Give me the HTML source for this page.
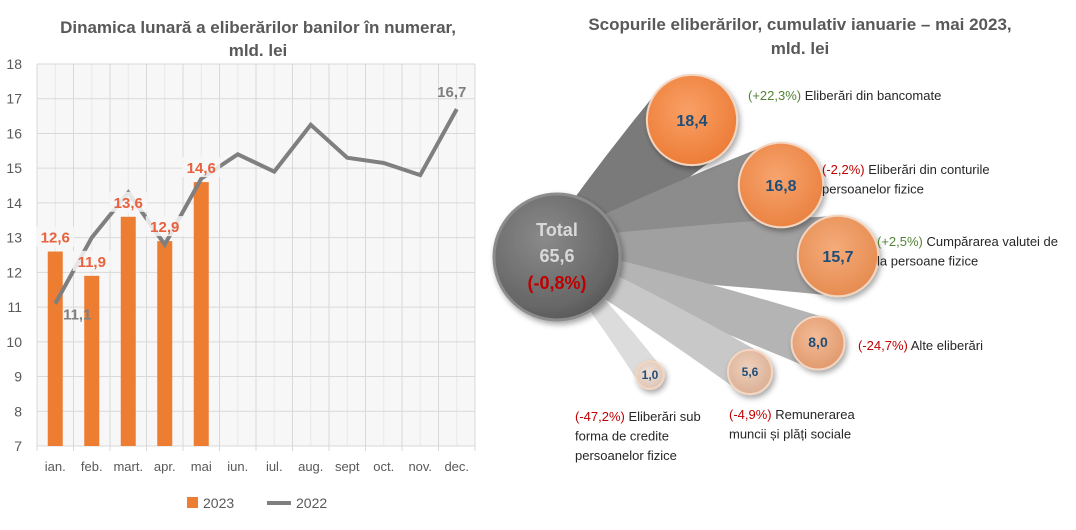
<!DOCTYPE html>
<html><head><meta charset="utf-8"><style>
body{margin:0;background:#fff;width:1076px;height:525px;overflow:hidden;font-family:"Liberation Sans",sans-serif}
svg text{font-family:"Liberation Sans",sans-serif}
</style></head><body>
<svg id="c" width="1076" height="525" viewBox="0 0 1076 525" xmlns="http://www.w3.org/2000/svg">
<defs>
<radialGradient id="gT" cx="40%" cy="35%" r="70%"><stop offset="0" stop-color="#8a8a8a"/><stop offset="0.8" stop-color="#666"/><stop offset="1" stop-color="#555"/></radialGradient>
<filter id="sh" x="-30%" y="-30%" width="160%" height="160%"><feDropShadow dx="2" dy="3" stdDeviation="3" flood-color="#000" flood-opacity="0.35"/></filter>
</defs>
<text x="258" y="33" text-anchor="middle" font-size="17" font-weight="bold" fill="#595959">Dinamica lunară a eliberărilor banilor în numerar,</text>
<text x="258" y="56" text-anchor="middle" font-size="17" font-weight="bold" fill="#595959">mld. lei</text>
<text x="800" y="30" text-anchor="middle" font-size="17" font-weight="bold" fill="#595959">Scopurile eliberărilor, cumulativ ianuarie – mai 2023,</text>
<text x="800" y="54" text-anchor="middle" font-size="17" font-weight="bold" fill="#595959">mld. lei</text>
<g id="left"></g>
<g id="right"></g>
<g>
<rect x="187" y="497" width="11" height="11" fill="#ed7d31"/>
<text x="203" y="508" font-size="14" fill="#595959">2023</text>
<line x1="267" y1="503" x2="291" y2="503" stroke="#7f7f7f" stroke-width="4"/>
<text x="296" y="508" font-size="14" fill="#595959">2022</text>
</g>
</svg>
<script>
const months=["ian.","feb.","mart.","apr.","mai","iun.","iul.","aug.","sept","oct.","nov.","dec."];
const vals2023=[12.6,11.9,13.6,12.9,14.6];
const vals2022=[11.1,13.0,14.3,12.8,14.7,15.4,14.9,16.25,15.3,15.15,14.8,16.7];
const yTicks=[7,8,9,10,11,12,13,14,15,16,17,18];
const bubbleVals=[18.4,16.8,15.7,8.0,5.6,1.0];
const bubbleLabels=["18,4","16,8","15,7","8,0","5,6","1,0"];
const totalVal="65,6", totalChg="(-0,8%)";
const NS="http://www.w3.org/2000/svg";
function mk(t,a,p){const e=document.createElementNS(NS,t);for(const k in a)e.setAttribute(k,a[k]);p.appendChild(e);return e;}
const L=document.getElementById('left'), R=document.getElementById('right');
const x0=37,x1=475,yT=64,yB=446;
const cw=(x1-x0)/months.length;
const y=v=>yB-(v-7)*(yB-yT)/11;
const xc=i=>x0+cw*(i+0.5);
let bg=mk('rect',{x:x0,y:yT,width:x1-x0,height:yB-yT,fill:'#f7f7f7'},L);


for(let i=0;i<=months.length;i++){
 let l=mk('line',{x1:x0+cw*i,x2:x0+cw*i,y1:yT,y2:yB+5,stroke:'#d9d9d9','stroke-width':1},L);
 
 
 if(i<months.length){let m=mk('line',{x1:xc(i),x2:xc(i),y1:yT,y2:yB,stroke:'#e8e8e8','stroke-width':1},L);
 
 }
}
yTicks.forEach(v=>{
 let l=mk('line',{x1:x0,x2:x1,y1:y(v),y2:y(v),stroke:'#d9d9d9','stroke-width':1},L);
 
 
 let t=mk('text',{x:22,y:y(v)+5,'font-size':14,fill:'#595959','text-anchor':'end'},L);t.textContent=v;
 
 
});
months.forEach((m,i)=>{let t=mk('text',{x:xc(i),y:471,'font-size':13,fill:'#595959','text-anchor':'middle'},L);t.textContent=m;
 
 });
vals2023.forEach((v,i)=>{let b=mk('rect',{x:xc(i)-7.5,y:y(v),width:15,height:yB-y(v),fill:'#ed7d31'},L);
 
 });
let pts=vals2022.map((v,i)=>xc(i)+','+y(v)).join(' ');
let pl=mk('polyline',{points:pts,fill:'none',stroke:'#7f7f7f','stroke-width':4,'stroke-linejoin':'miter'},L);


vals2023.forEach((v,i)=>{
 const s=v.toFixed(1).replace('.',',');
 let r=mk('rect',{x:xc(i)-19,y:y(v)-25,width:38,height:20,fill:'#f7f7f7',opacity:0.85},L);
 
 
 let t=mk('text',{x:xc(i),y:y(v)-9,'font-size':15,'font-weight':'bold',fill:'#e8603c','text-anchor':'middle'},L);t.textContent=s;
 
 
});
[[0,22,16],[11,-5,-12]].forEach(([i,dx,dy])=>{
 let t=mk('text',{x:xc(i)+dx,y:y(vals2022[i])+dy,'font-size':15,'font-weight':'bold',fill:'#7f7f7f','text-anchor':'middle'},L);
 t.textContent=vals2022[i].toFixed(1).replace('.',',');
 
 
});
// right bubble chart
const T={x:557,y:257,r:63};
const pos=[[692,120],[781,185],[838,256],[818,343],[750,372],[650,375]];
const conn=['#7a7a7a','#8c8c8c','#a0a0a0','#b4b4b4','#c8c8c8','#dcdcdc'];
const fills=[['#f9a066','#ec7a34'],['#f7a46e','#e9803e'],['#f5ab7a','#e58a4e'],['#f3bc98','#e0976a'],['#efd0bc','#d9ad92'],['#f0e0d6','#dcc4b6']];
const rad=bubbleVals.map(v=>12+v*1.8);
bubbleVals.forEach((v,i)=>{
 const [bx,by]=pos[i],r=rad[i];
 const a=Math.atan2(by-T.y,bx-T.x),px=-Math.sin(a),py=Math.cos(a);
 const w0=r*0.45;
 const mx=(T.x+bx)/2,my=(T.y+by)/2;
 const bend=-4;
 const d=`M${T.x+px*w0},${T.y+py*w0} Q${mx+px*(w0+r)/2+px*bend},${my+py*(w0+r)/2+py*bend} ${bx+px*r},${by+py*r} L${bx-px*r},${by-py*r} Q${mx-px*(w0+r)/2+px*bend},${my-py*(w0+r)/2+py*bend} ${T.x-px*w0},${T.y-py*w0} Z`;
 let p=mk('path',{d,fill:conn[i]},R);
 
 
});
let tc=mk('circle',{cx:T.x,cy:T.y,r:T.r,fill:'url(#gT)',stroke:'#8c8c8c','stroke-width':3,filter:'url(#sh)'},R);


[['Total',236,'#d9d9d9'],[totalVal,262,'#d9d9d9'],[totalChg,289,'#c00000']].forEach(([s,yy,c])=>{
 let t=mk('text',{x:T.x,y:yy,'font-size':18,'font-weight':'bold',fill:c,'text-anchor':'middle'},R);t.textContent=s;
 
 
});
bubbleVals.forEach((v,i)=>{
 const [bx,by]=pos[i],r=rad[i];
 const g=mk('radialGradient',{id:'g'+i,cx:'45%',cy:'40%',r:'65%'},document.querySelector('defs'));
 mk('stop',{offset:0,'stop-color':fills[i][0]},g);mk('stop',{offset:1,'stop-color':fills[i][1]},g);
 let c=mk('circle',{cx:bx,cy:by,r:r,fill:'url(#g'+i+')',stroke:'#f3d5c0','stroke-width':2,filter:'url(#sh)'},R);
 
 
 let t=mk('text',{x:bx,y:by+(r>30?6:4),'font-size':r>40?16:(r>25?14:12),'font-weight':'bold',fill:'#1f4e79','text-anchor':'middle'},R);t.textContent=bubbleLabels[i];
 
 
});
const lab=[
 [748,[[['(+22,3%)','#548235'],[' Eliberări din bancomate','#262626']]],100],
 [822,[[['(-2,2%)','#c00000'],[' Eliberări din conturile','#262626']],[['persoanelor fizice','#262626']]],174],
 [877,[[['(+2,5%)','#548235'],[' Cumpărarea valutei de','#262626']],[['la persoane fizice','#262626']]],246],
 [858,[[['(-24,7%)','#c00000'],[' Alte eliberări','#262626']]],350],
 [729,[[['(-4,9%)','#c00000'],[' Remunerarea','#262626']],[['muncii și plăți sociale','#262626']]],419],
 [575,[[['(-47,2%)','#c00000'],[' Eliberări sub','#262626']],[['forma de credite','#262626']],[['persoanelor fizice','#262626']]],421]
];
lab.forEach(([lx,lines,ly])=>{
 lines.forEach((ln,j)=>{
  let t=mk('text',{x:lx,y:ly+j*19.5,'font-size':13},R);
  
  
  ln.forEach(([s,c])=>{let sp=mk('tspan',{fill:c},t);sp.textContent=s;});
 });
});
</script>
</body></html>
